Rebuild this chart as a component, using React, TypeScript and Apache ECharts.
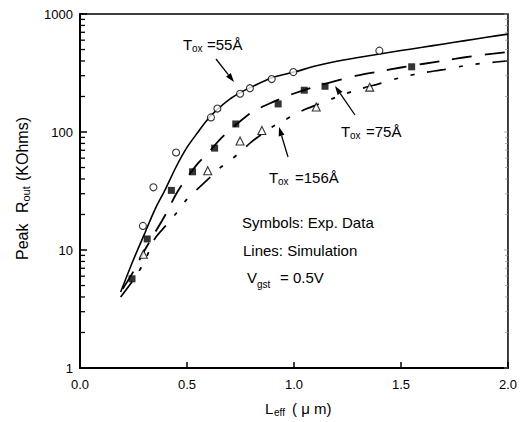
import React, { useEffect, useRef } from "react";
import * as echarts from "echarts";

// ---- data ----
const xTickLabels = ["0.0", "0.5", "1.0", "1.5", "2.0"];
const yTickLabels = ["1", "10", "100", "1000"];
const yMinorValues = [2, 3, 4, 5, 6, 7, 8, 9, 20, 30, 40, 50, 60, 70, 80, 90, 200, 300, 400, 500, 600, 700, 800, 900];
const yMajorValues = [1, 10, 100, 1000];

// simulation lines
const sim55 = [
  [0.19, 4.4], [0.25, 8.3], [0.3, 13.5], [0.35, 22], [0.4, 33], [0.45, 51], [0.5, 74], [0.55, 99],
  [0.6, 130], [0.65, 160], [0.7, 190], [0.75, 216], [0.8, 240], [0.9, 290], [1.0, 322], [1.1, 362],
  [1.2, 398], [1.3, 428], [1.4, 458], [1.5, 490], [1.6, 522], [1.7, 557], [1.8, 595], [1.9, 635], [2.0, 675],
];
const sim75 = [
  [0.2, 4.7], [0.25, 6.6], [0.3, 9.8], [0.35, 14], [0.4, 20], [0.45, 30], [0.5, 41], [0.55, 54],
  [0.6, 67], [0.65, 85], [0.7, 104], [0.75, 124], [0.8, 146], [0.85, 163], [0.9, 179], [0.95, 196],
  [1.0, 212], [1.1, 243], [1.2, 272], [1.3, 302], [1.4, 326], [1.5, 352], [1.6, 377], [1.7, 403],
  [1.8, 430], [1.9, 455], [2.0, 477],
];
const sim156 = [
  [0.19, 4.0], [0.25, 5.6], [0.3, 7.9], [0.35, 12.5], [0.4, 16], [0.45, 20.5], [0.5, 27], [0.55, 33],
  [0.6, 40], [0.65, 49], [0.7, 57], [0.75, 68], [0.8, 82], [0.85, 96], [0.9, 111], [0.95, 124],
  [1.0, 140], [1.05, 155], [1.1, 168], [1.2, 198], [1.3, 229], [1.4, 257], [1.5, 290], [1.6, 317],
  [1.7, 338], [1.8, 365], [1.9, 385], [2.0, 400],
];

// experimental data
const exp55 = [
  [0.294, 16], [0.343, 34], [0.449, 67], [0.612, 133], [0.642, 158], [0.748, 211],
  [0.794, 235], [0.896, 281], [0.997, 322], [1.399, 489],
];
const exp75 = [
  [0.243, 5.7], [0.314, 12.4], [0.427, 32], [0.526, 46], [0.629, 73], [0.728, 117],
  [0.926, 173], [1.048, 226], [1.145, 244], [1.55, 357],
];
const exp156 = [
  [0.296, 9.2], [0.597, 47], [0.748, 84], [0.85, 103], [1.104, 163], [1.354, 240],
];

const FONT = '"Liberation Sans", Arial, Helvetica, sans-serif';

function txt(x: number, y: number, text: string, size = 15) {
  return {
    type: "text",
    x,
    y,
    silent: true,
    style: {
      text,
      font: `${size}px ${FONT}`,
      fill: "#000",
      align: "left",
      verticalAlign: "middle",
      textAlign: "left",
      textVerticalAlign: "middle",
    },
  };
}

function arrow(x1: number, y1: number, x2: number, y2: number) {
  const dx = x2 - x1;
  const dy = y2 - y1;
  const len = Math.sqrt(dx * dx + dy * dy);
  const ux = dx / len;
  const uy = dy / len;
  const hl = 9;
  const hw = 3;
  const bx = x2 - ux * hl;
  const by = y2 - uy * hl;
  return [
    {
      type: "line",
      silent: true,
      shape: { x1, y1, x2: bx, y2: by },
      style: { stroke: "#000", lineWidth: 1.3 },
    },
    {
      type: "polygon",
      silent: true,
      shape: {
        points: [
          [x2, y2],
          [bx - uy * hw, by + ux * hw],
          [bx + uy * hw, by - ux * hw],
        ],
      },
      style: { fill: "#000" },
    },
  ];
}

export default function App() {
  const ref = useRef<HTMLDivElement>(null);

  useEffect(() => {
    if (!ref.current) return;
    const chart = echarts.init(ref.current, undefined, { renderer: "svg" });

    const baseGraphic: any[] = [
      // Tox = 55 Å
      txt(183, 44, "T"),
      txt(192, 48, "ox", 10),
      txt(207, 44, "=55Å"),
      ...arrow(216, 59, 234, 82),
      // Tox = 75 Å
      txt(341, 131, "T"),
      txt(350, 135, "ox", 10),
      txt(366, 131, "=75Å"),
      ...arrow(355, 115, 335, 86),
      // Tox = 156 Å
      txt(269, 177, "T"),
      txt(278, 181, "ox", 10),
      txt(295, 177, "=156Å"),
      ...arrow(288, 157, 279, 127),
      // notes
      txt(242, 222, "Symbols: Exp. Data"),
      txt(243, 250, "Lines: Simulation"),
      txt(247, 277.5, "V"),
      txt(257, 284, "gst", 10),
      txt(280, 277.5, "= 0.5V"),
      // x-axis title
      txt(265, 408, "L"),
      txt(274, 412, "eff", 10),
      txt(292, 408, "( μ m)"),
      // y-axis title (rotated)
      {
        type: "group",
        x: 22,
        y: 186,
        rotation: Math.PI / 2,
        children: [
          txt(-74, 0, "Peak", 16),
          txt(-27, 0, "R", 16),
          txt(-15.5, 4, "out", 11),
          txt(5, 0, "(KOhms)", 16),
        ],
      },
    ];

    const option: any = {
      animation: false,
      backgroundColor: "#fff",
      textStyle: { fontFamily: FONT },
      grid: {
        left: 80,
        right: 12,
        top: 14,
        bottom: 54,
        show: true,
        borderColor: "#000",
        borderWidth: 1.5,
        backgroundColor: "transparent",
      },
      xAxis: {
        type: "value",
        min: 0,
        max: 2,
        interval: 0.5,
        axisLine: { show: true, lineStyle: { color: "#000", width: 1.8 } },
        axisTick: { show: true, inside: true, length: 6, lineStyle: { color: "#000", width: 1.5 } },
        axisLabel: {
          color: "#000",
          fontSize: 13,
          margin: 10,
          fontFamily: FONT,
          formatter: (v: number) => xTickLabels[Math.round(v / 0.5)] ?? v.toFixed(1),
        },
        splitLine: { show: false },
      },
      yAxis: {
        type: "log",
        logBase: 10,
        min: 1,
        max: 1000,
        axisLine: { show: true, lineStyle: { color: "#000", width: 2 } },
        axisTick: { show: true, inside: true, length: 7, lineStyle: { color: "#000", width: 1.5 } },
        axisLabel: {
          color: "#000",
          fontSize: 13,
          margin: 7,
          fontFamily: FONT,
          formatter: (v: number) => yTickLabels[Math.round(Math.log10(v))] ?? String(v),
        },
        splitLine: { show: false },
      },
      series: [
        {
          name: "sim55",
          type: "line",
          data: sim55,
          showSymbol: false,
          smooth: 0.3,
          lineStyle: { color: "#000", width: 1.6, type: "solid" },
          z: 4,
        },
        {
          name: "sim75",
          type: "line",
          data: sim75,
          showSymbol: false,
          smooth: 0.3,
          lineStyle: { color: "#000", width: 1.8, type: [20, 13] },
          z: 4,
        },
        {
          name: "sim156",
          type: "line",
          data: sim156,
          showSymbol: false,
          smooth: 0.3,
          lineStyle: { color: "#000", width: 1.7, type: [19, 13, 4, 13, 4, 13] },
          z: 4,
        },
        {
          name: "exp55",
          type: "scatter",
          data: exp55,
          symbol: "circle",
          symbolSize: 7,
          itemStyle: { color: "#fff", borderColor: "#000", borderWidth: 1.1 },
          z: 5,
        },
        {
          name: "exp75",
          type: "scatter",
          data: exp75,
          symbol: "rect",
          symbolSize: 7,
          itemStyle: { color: "#000", borderColor: "#000", borderWidth: 0 },
          z: 5,
        },
        {
          name: "exp156",
          type: "scatter",
          data: exp156,
          symbol: "triangle",
          symbolSize: 8,
          itemStyle: { color: "#fff", borderColor: "#000", borderWidth: 1.1 },
          z: 5,
        },
      ],
      graphic: baseGraphic,
    };

    chart.setOption(option);

    // minor ticks on the log axis (left) and faint ticks on the right frame,
    // positioned through the chart's own scales
    const tickGraphic: any[] = [];
    yMinorValues.forEach((v) => {
      const pl = chart.convertToPixel({ gridIndex: 0 }, [0, v]) as number[];
      const pr = chart.convertToPixel({ gridIndex: 0 }, [2, v]) as number[];
      tickGraphic.push({
        type: "line",
        silent: true,
        shape: { x1: pl[0], y1: pl[1], x2: pl[0] + 5, y2: pl[1] },
        style: { stroke: "#000", lineWidth: 1.3 },
        z: 10,
      });
      tickGraphic.push({
        type: "line",
        silent: true,
        shape: { x1: pr[0] - 3, y1: pr[1], x2: pr[0], y2: pr[1] },
        style: { stroke: "#999", lineWidth: 0.8 },
        z: 10,
      });
    });
    yMajorValues.forEach((v) => {
      const pr = chart.convertToPixel({ gridIndex: 0 }, [2, v]) as number[];
      tickGraphic.push({
        type: "line",
        silent: true,
        shape: { x1: pr[0] - 4, y1: pr[1], x2: pr[0], y2: pr[1] },
        style: { stroke: "#999", lineWidth: 0.8 },
        z: 10,
      });
    });

    chart.setOption({ graphic: [...baseGraphic, ...tickGraphic] });

    return () => {
      chart.dispose();
    };
  }, []);

  return (
    <div
      ref={ref}
      style={{ position: "fixed", left: 0, top: 0, width: 520, height: 422, background: "#fff" }}
    />
  );
}
